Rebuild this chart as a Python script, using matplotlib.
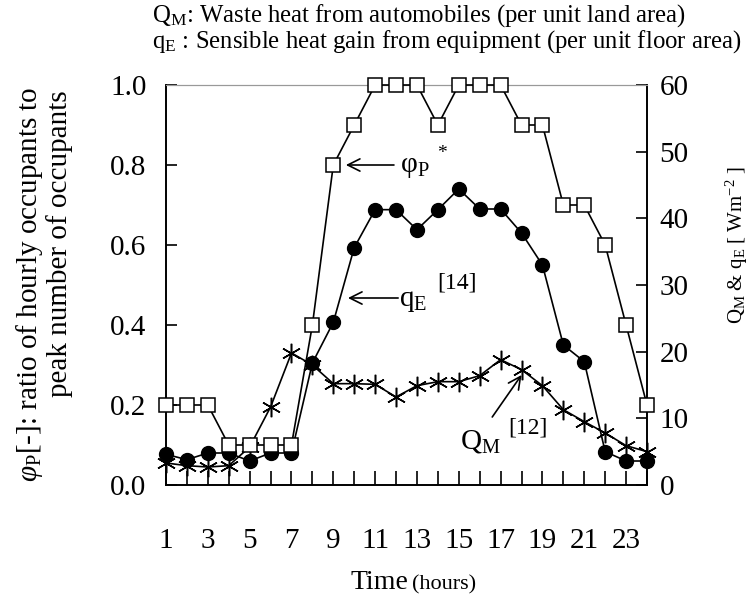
import numpy as np
import matplotlib
matplotlib.use("Agg")
import matplotlib.pyplot as plt

plt.rcParams['font.family'] = ['Liberation Serif', 'DejaVu Serif']
plt.rcParams['mathtext.fontset'] = 'custom'
plt.rcParams['mathtext.rm'] = 'Liberation Serif'
plt.rcParams['mathtext.it'] = 'Liberation Serif:italic'

hours = list(range(1, 25))
# ratio of hourly occupants to peak (left axis)
phi_p = [0.2, 0.2, 0.2, 0.1, 0.1, 0.1, 0.1, 0.4, 0.8, 0.9, 1.0, 1.0,
         1.0, 0.9, 1.0, 1.0, 1.0, 0.9, 0.9, 0.7, 0.7, 0.6, 0.4, 0.2]
# sensible heat gain from equipment, W/m2 (right axis)
q_e = [4.6, 3.8, 4.8, 4.8, 3.6, 4.8, 4.8, 18.3, 24.4, 35.6, 41.3, 41.3,
       38.3, 41.3, 44.4, 41.4, 41.4, 37.8, 33.0, 21.0, 18.5, 5.0, 3.6, 3.6]
# waste heat from automobiles, W/m2 (right axis)
q_m = [3.3, 2.9, 2.7, 2.9, 5.7, 11.7, 19.8, 18.0, 15.2, 15.2, 15.1, 13.2,
       14.9, 15.5, 15.5, 16.4, 18.8, 17.3, 14.9, 11.3, 9.5, 7.8, 5.9, 5.0]

left_ticks = [0.0, 0.2, 0.4, 0.6, 0.8, 1.0]
right_ticks = [0, 10, 20, 30, 40, 50, 60]
x_labels = list(range(1, 24, 2))

W, H = 753, 603
fig = plt.figure(figsize=(W / 100, H / 100), dpi=100)
ax = fig.add_axes([166 / W, 1 - 485 / H, (647 - 166) / W, 400 / H])
ax2 = ax.twinx()

lw = 1.2
ax.plot(hours, phi_p, color='black', lw=lw, marker='s', ms=9.5,
        mfc='white', mec='black', mew=1.1, clip_on=False, zorder=3)
ax2.plot(hours, q_e, color='black', lw=lw, marker='o', ms=10,
         mfc='black', mec='black', clip_on=False, zorder=2)
ax2.plot(hours, q_m, color='black', lw=lw, marker=(6, 2, 0), ms=14,
         mew=1.1, clip_on=False, zorder=2)
ax.set_zorder(ax2.get_zorder() + 1)
ax.patch.set_visible(False)

ax.set_xlim(1, 24)
ax.set_ylim(0, 1.0)
ax2.set_ylim(0, 60)

ax.set_xticks(hours, minor=True)
ax.set_xticks(x_labels)
ax.set_xticklabels([str(h) for h in x_labels], fontsize=21)
ax.tick_params(axis='x', which='both', direction='in', length=10, width=1.2,
               pad=31, top=False)
ax.set_yticks(left_ticks)
ax.set_yticklabels(['%.1f' % v for v in left_ticks], fontsize=21)
ax.tick_params(axis='y', direction='in', length=8, width=1.2, pad=14)
ax2.set_yticks(right_ticks)
ax2.set_yticklabels([str(v) for v in right_ticks], fontsize=21)
ax2.tick_params(axis='y', direction='in', length=8, width=1.2, pad=9)

for a in (ax, ax2):
    a.spines['top'].set_color('#999999')
    a.spines['top'].set_linewidth(0.8)
    for s in ('left', 'right', 'bottom'):
        a.spines[s].set_linewidth(1.2)

# annotations
arr = dict(arrowstyle='->', color='black', lw=1.2,
           mutation_scale=22, shrinkA=0, shrinkB=0)
ax.annotate('', xy=(9.6, 0.8), xytext=(11.9, 0.8), arrowprops=arr)
ax.text(12.2, 0.795, r'$\mathrm{\varphi_P}$', fontsize=21, va='center')
ax.text(13.95, 0.83, '*', fontsize=14, va='center')
ax.annotate('', xy=(9.7, 0.4675), xytext=(12.1, 0.4675), arrowprops=arr)
ax.text(12.15, 0.46, r'$\mathrm{q_E}$', fontsize=21, va='center')
ax.text(13.95, 0.505, '[14]', fontsize=17, va='center')
ax2.annotate('', xy=(18.0, 16.5), xytext=(16.6, 10.2), arrowprops=arr)
ax2.text(15.05, 6.5, r'$\mathrm{Q_M}$', fontsize=21, va='center')
ax2.text(17.35, 8.6, '[12]', fontsize=17, va='center')

# labels
fig.text(408 / W, 1 - 589 / H, 'Time', fontsize=20, ha='right', va='baseline')
fig.text(412 / W, 1 - 589 / H, '(hours)', fontsize=16, ha='left', va='baseline')
fig.text(30 / W, 1 - 87 / H, r'$\varphi_\mathrm{P}$[-]: ratio of hourly occupants to',
         fontsize=21, rotation=90, ha='center', va='top')
fig.text(60 / W, 1 - 90 / H, 'peak number of occupants',
         fontsize=21, rotation=90, ha='center', va='top')
fig.text(737 / W, 1 - 245 / H, r'$\mathrm{Q_M}$ & $\mathrm{q_E}$ [ Wm$^{\mathrm{-2}}$ ]',
         fontsize=15, rotation=90, ha='center', va='center')

fig.text(152 / W, 1 - 16 / H, r'$\mathrm{Q_M}$: Waste heat from automobiles (per unit land area)',
         fontsize=17.8, ha='left', va='center')
fig.text(152 / W, 1 - 42 / H, r'$\mathrm{q_E}$ : Sensible heat gain from equipment (per unit floor area)',
         fontsize=17.8, ha='left', va='center')

fig.savefig('out.png', dpi=100)
